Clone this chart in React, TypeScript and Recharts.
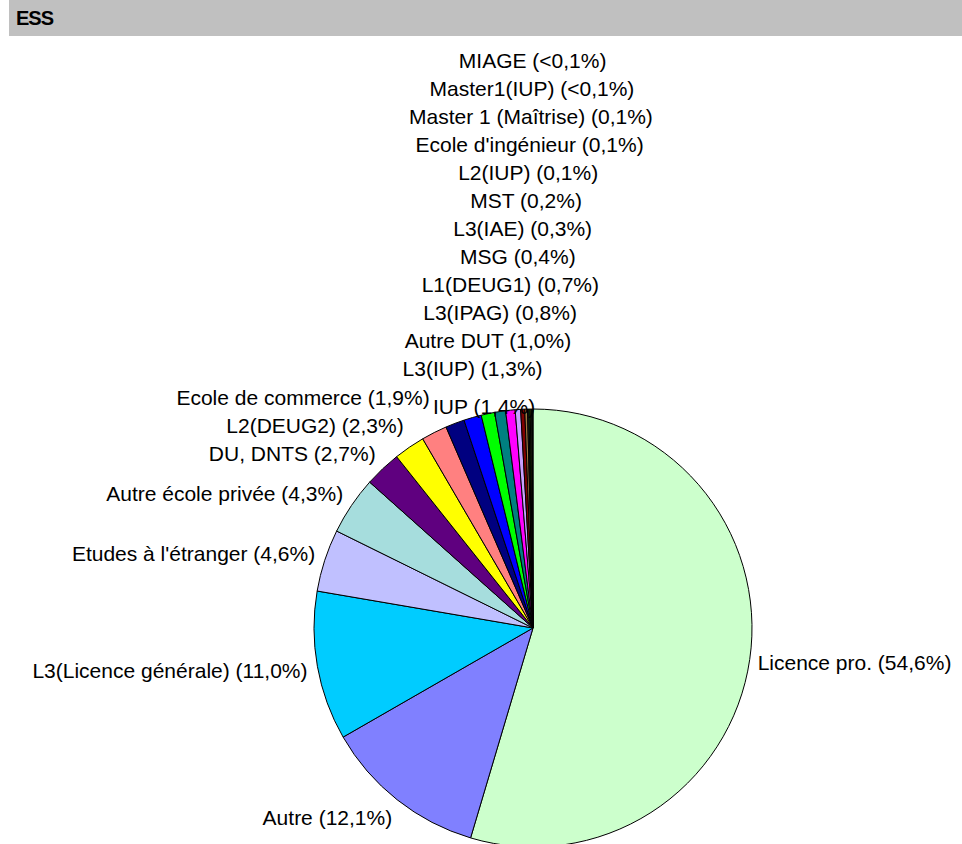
import React from 'react';
import { PieChart, Pie, Cell } from 'recharts';

// ESS - poursuite d'études (parts en %)
const categories = [
  'Licence pro.',
  'Autre',
  'L3(Licence générale)',
  "Etudes à l'étranger",
  'Autre école privée',
  'DU, DNTS',
  'L2(DEUG2)',
  'Ecole de commerce',
  'IUP',
  'L3(IUP)',
  'Autre DUT',
  'L3(IPAG)',
  'L1(DEUG1)',
  'MSG',
  'L3(IAE)',
  'MST',
  'L2(IUP)',
  "Ecole d'ingénieur",
  'Master 1 (Maîtrise)',
  'Master1(IUP)',
  'MIAGE',
];

const shares = [54.6, 12.1, 11.0, 4.6, 4.3, 2.7, 2.3, 1.9, 1.4, 1.3, 1.0, 0.8, 0.7, 0.4, 0.3, 0.2, 0.1, 0.1, 0.1, 0.05, 0.05];

const shareLabels = [
  '54,6%', '12,1%', '11,0%', '4,6%', '4,3%', '2,7%', '2,3%', '1,9%', '1,4%', '1,3%', '1,0%',
  '0,8%', '0,7%', '0,4%', '0,3%', '0,2%', '0,1%', '0,1%', '0,1%', '<0,1%', '<0,1%',
];

const colors = [
  '#CCFFCC', '#8080FF', '#00CCFF', '#C0C0FF', '#A6DDDD', '#5F007F', '#FFFF00', '#FF8080',
  '#000080', '#0000FF', '#00FF00', '#008080', '#FF00FF', '#C8A0FF', '#800000', '#A07840',
  '#404040', '#006600', '#808000', '#C0C0C0', '#000000',
];

const data = categories.map((name, i) => ({ name, value: shares[i], label: shareLabels[i] }));

const RADIAN = Math.PI / 180;
const total = shares.reduce((a, b) => a + b, 0);
const START = 90;
const STACK_GAP = 28;

const midAngleOf = (i: number) => {
  const before = shares.slice(0, i).reduce((a, b) => a + b, 0);
  return START - (360 * (before + shares[i] / 2)) / total;
};

// left side labels are pushed upward when they would collide with the one below
const leftY = (i: number, cy: number, r: number): number => {
  const radial = cy - (r + 21) * Math.sin(midAngleOf(i) * RADIAN);
  if (i <= 2) return radial;
  return Math.min(radial, leftY(i - 1, cy, r) - STACK_GAP);
};

const renderLabel = (props: any) => {
  const { cx, cy, outerRadius, index, midAngle } = props;
  const item = data[index];
  const text = `${item.name} (${item.label})`;
  const cos = Math.cos(midAngle * RADIAN);
  const sin = Math.sin(midAngle * RADIAN);
  let x: number;
  let y: number;
  let anchor: 'start' | 'middle' | 'end' = 'middle';

  if (index >= 8) {
    // small slices at the top: stacked column
    x = cx + outerRadius * cos;
    y = cy - outerRadius - 41 - (index - 9) * STACK_GAP;
    if (index === 8) {
      x = x - 22;
      anchor = 'start';
      y = cy - outerRadius - 3;
    }
  } else if (index >= 2) {
    x = cx + (outerRadius + 10) * cos;
    y = leftY(index, cy, outerRadius);
    anchor = 'end';
  } else {
    x = cx + (outerRadius + 8) * cos;
    y = cy - (outerRadius + 22) * sin;
    anchor = cos > 0.1 ? 'start' : cos < -0.1 ? 'end' : 'middle';
  }

  return (
    <text
      key={`lbl-${index}`}
      x={x}
      y={y}
      textAnchor={anchor}
      dominantBaseline="central"
      fill="#000"
      fontSize={21}
      fontFamily="'Liberation Sans', Arial, sans-serif"
    >
      {text}
    </text>
  );
};

export default function App() {
  return (
    <div style={{ position: 'absolute', left: 0, top: 0, width: 962, height: 844, overflow: 'hidden', background: '#fff' }}>
      <div
        style={{
          position: 'absolute',
          left: 9,
          top: 0,
          width: 953,
          height: 36,
          background: '#C0C0C0',
          fontFamily: "'Liberation Sans', Arial, sans-serif",
          fontWeight: 'bold',
          fontSize: 20,
          letterSpacing: -1,
          lineHeight: '36px',
          paddingLeft: 7,
          boxSizing: 'border-box',
          color: '#000',
        }}
      >
        ESS
      </div>
      <PieChart width={962} height={844} style={{ position: 'absolute', left: 0, top: 0 }}>
        <Pie
          data={data}
          dataKey="value"
          nameKey="name"
          cx={528}
          cy={623}
          outerRadius={219}
          startAngle={90}
          endAngle={-270}
          stroke="#000"
          strokeWidth={1}
          label={renderLabel}
          labelLine={false}
          isAnimationActive={false}
        >
          {data.map((d, i) => (
            <Cell key={d.name} fill={colors[i]} />
          ))}
        </Pie>
      </PieChart>
    </div>
  );
}
